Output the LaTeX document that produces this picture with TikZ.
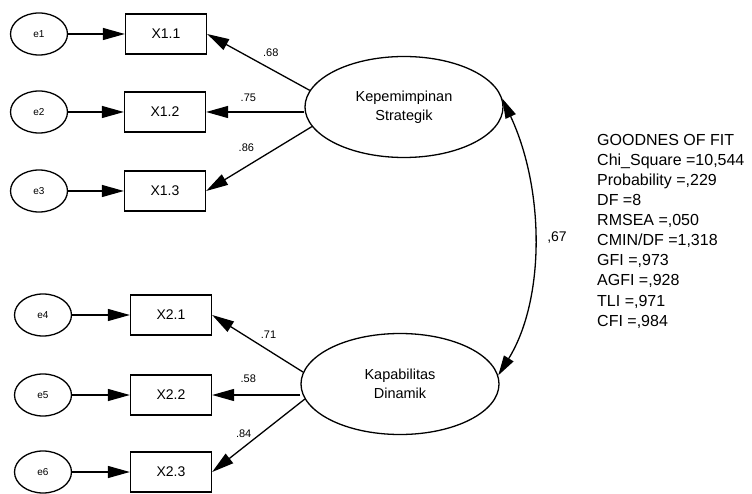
\documentclass[tikz,border=0pt]{standalone}
\usepackage{fontspec}
\setmainfont{Liberation Sans}
\usetikzlibrary{shapes.geometric,arrows.meta}
\tikzset{
  err/.style={draw,ellipse,line width=1.3pt,minimum width=57pt,minimum height=42pt,inner sep=0pt,font=\fontsize{10}{12}\selectfont},
  ind/.style={draw,rectangle,line width=1.3pt,minimum width=81pt,minimum height=40pt,inner sep=0pt,font=\fontsize{14}{16}\selectfont},
  lat/.style={draw,ellipse,line width=1.3pt,minimum width=198pt,minimum height=101pt,inner sep=0pt,align=center,font=\fontsize{14.5}{19}\selectfont},
  ld/.style={-{Triangle[length=22pt,width=12pt]},line width=1.3pt},
  wt/.style={inner sep=1pt,font=\fontsize{11}{13}\selectfont},
  gof/.style={inner sep=0pt,anchor=base west,font=\fontsize{16}{20}\selectfont}
}
\begin{document}
\begin{tikzpicture}[x=1pt,y=-1pt]
\useasboundingbox (0,0) rectangle (752,494);
\node[err] (e1) at (39,34) {e1};
\node[ind] (x11) at (166,34) {X1.1};
\node[err] (e2) at (39,112) {e2};
\node[ind] (x12) at (165,112) {X1.2};
\node[err] (e3) at (39,191) {e3};
\node[ind] (x13) at (165,191) {X1.3};
\node[err] (e4) at (43,315) {e4};
\node[ind] (x21) at (171,315) {X2.1};
\node[err] (e5) at (43,395) {e5};
\node[ind] (x22) at (171,395) {X2.2};
\node[err] (e6) at (43,472) {e6};
\node[ind] (x23) at (171,472) {X2.3};
\node[lat] (ks) at (404,107) {Kepemimpinan\\Strategik};
\node[lat] (kd) at (400,384) {Kapabilitas\\Dinamik};
\draw[ld] (e1) -- (x11);
\draw[ld] (e2) -- (x12);
\draw[ld] (e3) -- (x13);
\draw[ld] (e4) -- (x21);
\draw[ld] (e5) -- (x22);
\draw[ld] (e6) -- (x23);
\draw[ld] (ks.170) -- (x11.east) node[wt,pos=.38,above=11pt] {.68};
\draw[ld] (x12.east -| ks.west) -- (x12.east) node[wt,pos=.57,above=9pt] {.75};
\draw[ld] (ks.192) -- (x13.east) node[wt,pos=.62,above=13pt] {.86};
\draw[ld] (kd.173) -- (x21.east) node[wt,pos=.38,above=10pt] {.71};
\draw[ld] (x22.east -| kd.west) -- (x22.east) node[wt,pos=.59,above=11pt] {.58};
\draw[ld] (kd.189) -- (x23.east) node[wt,pos=.66,above=8pt] {.84};
\draw[{Triangle[length=20pt,width=11pt]}-{Triangle[length=20pt,width=11pt]},line width=1.3pt] (ks.5) .. controls (545,190) and (545,300) .. (kd.5);
\node[font=\fontsize{14}{16}\selectfont] (r) at (557,238) {,67};
\foreach \t [count=\i from 0] in {GOODNES OF FIT,{Chi\_Square =10,544},{Probability =,229},DF =8,{RMSEA =,050},{CMIN/DF =1,318},{GFI =,973},{AGFI =,928},{TLI =,971},{CFI =,984}}
  \node[gof] (g\i) at (597,{146+20*\i}) {\t};
\end{tikzpicture}
\end{document}
